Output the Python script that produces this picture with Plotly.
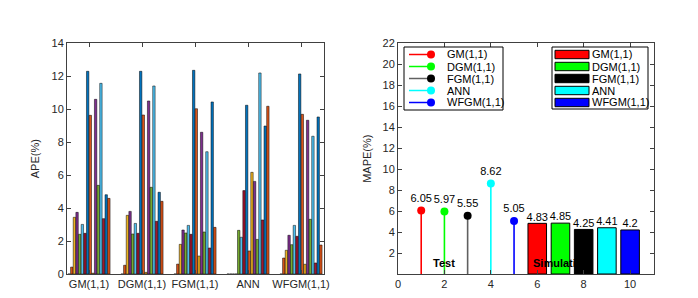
import plotly.graph_objects as go

# ---------------- data ----------------
models = ["GM(1,1)", "DGM(1,1)", "FGM(1,1)", "ANN", "WFGM(1,1)"]
model_pos = [1, 2, 3, 4, 5]

# APE (%) per model, one value per period (16 periods)
ape_gm   = [0, 0.42, 3.44, 3.74, 2.41, 3.01, 2.47, 12.30, 9.63, 0.05, 10.60, 5.38, 11.57, 3.36, 4.81, 4.59]
ape_dgm  = [0, 0.53, 3.56, 3.80, 2.43, 3.07, 2.47, 12.30, 9.65, 0.10, 10.50, 5.26, 11.41, 3.20, 4.96, 4.41]
ape_fgm  = [0, 0.60, 1.80, 2.67, 2.49, 2.95, 2.41, 12.36, 10.03, 1.09, 8.60, 2.55, 7.42, 1.58, 10.44, 2.83]
ape_ann  = [0, 0, 0, 0, 2.65, 2.23, 5.06, 10.24, 1.40, 6.17, 5.62, 2.10, 12.20, 3.28, 8.98, 10.18]
ape_wfgm = [0, 0.97, 1.44, 2.35, 1.78, 2.95, 2.29, 12.14, 9.69, 0.59, 9.33, 3.32, 8.36, 0.67, 9.53, 1.76]

test_x = [1, 2, 3, 4, 5]
test_mape = [6.05, 5.97, 5.55, 8.62, 5.05]
sim_x = [6, 7, 8, 9, 10]
sim_mape = [4.83, 4.85, 4.25, 4.41, 4.2]

left_yticks = [0, 2, 4, 6, 8, 10, 12, 14]
right_yticks = [2, 4, 6, 8, 10, 12, 14, 16, 18, 20, 22]
right_xticks = [0, 2, 4, 6, 8, 10]

# ---------------- styles ----------------
FONT = "Liberation Sans, Arial, sans-serif"
matlab_colors = ["#0072BD", "#D95319", "#EDB120", "#7E2F8E", "#77AC30", "#4DBEEE", "#A2142F"]
stem_line_colors = ["#FF0000", "#00FF00", "#606060", "#00FFFF", "#0000FF"]
stem_marker_colors = ["#FF0000", "#00FF00", "#000000", "#00FFFF", "#0000FF"]
bar_colors = ["#FF0000", "#00FF00", "#000000", "#00FFFF", "#0000FF"]
AXC = "#404040"
W, H = 698, 298


def P(px, py):
    return px / W, (H - py) / H


fig = go.Figure()

# ---------------- left panel: grouped APE bars ----------------
all_ape = [ape_gm, ape_dgm, ape_fgm, ape_ann, ape_wfgm]
n_periods = len(ape_gm)
for j in range(n_periods):
    fig.add_trace(go.Bar(
        x=model_pos, y=[m[j] for m in all_ape],
        marker=dict(color=matlab_colors[j % 7], line=dict(color="black", width=0.5)),
        showlegend=False, xaxis="x", yaxis="y", hoverinfo="y",
    ))

# ---------------- right panel: stems (test) ----------------
for i in range(len(test_x)):
    fig.add_trace(go.Scatter(
        x=[test_x[i], test_x[i]], y=[0, test_mape[i]], mode="lines",
        line=dict(color=stem_line_colors[i], width=1.6),
        showlegend=False, xaxis="x2", yaxis="y2", hoverinfo="skip",
    ))
fig.add_trace(go.Scatter(
    x=test_x, y=test_mape, mode="markers+text",
    marker=dict(color=stem_marker_colors, size=8),
    text=[f"{v:g}" for v in test_mape], textposition="top center",
    textfont=dict(family=FONT, size=11, color="black"),
    showlegend=False, xaxis="x2", yaxis="y2", cliponaxis=False,
))

# ---------------- right panel: bars (simulation) ----------------
fig.add_trace(go.Bar(
    x=sim_x, y=sim_mape, width=0.8,
    marker=dict(color=bar_colors, line=dict(color="black", width=1)),
    showlegend=False, xaxis="x2", yaxis="y2",
))
fig.add_trace(go.Scatter(
    x=sim_x, y=sim_mape, mode="text",
    text=[f"{v:g}" for v in sim_mape], textposition="top center",
    textfont=dict(family=FONT, size=11, color="black"),
    showlegend=False, xaxis="x2", yaxis="y2", cliponaxis=False,
))

# ---------------- axes ----------------
ax_common = dict(showline=True, linecolor=AXC, linewidth=1, mirror="ticks",
                 ticks="inside", ticklen=4, tickcolor=AXC, showgrid=False,
                 zeroline=False, automargin=False,
                 tickfont=dict(family=FONT, size=11, color="#262626"))

y0, y1 = (H - 274) / H, (H - 43.3) / H

fig.update_layout(
    template="none",
    width=W, height=H,
    margin=dict(l=0, r=0, t=0, b=0, pad=0, autoexpand=False),
    paper_bgcolor="white", plot_bgcolor="white",
    barmode="group", bargap=0.2, bargroupgap=0.1,
    showlegend=False,
    font=dict(family=FONT, size=11, color="#262626"),
    xaxis=dict(domain=[67 / W, 324 / W], range=[0.585, 5.434],
               tickvals=model_pos, ticktext=models, anchor="y", **ax_common),
    yaxis=dict(domain=[y0, y1], range=[0, 14], tickvals=left_yticks, anchor="x",
               title=dict(text="APE(%)", standoff=9, font=dict(family=FONT, size=11)),
               **ax_common),
    xaxis2=dict(domain=[398 / W, 654 / W], range=[0, 11.03],
                tickvals=right_xticks, anchor="y2", **ax_common),
    yaxis2=dict(domain=[y0, y1], range=[0, 22], tickvals=right_yticks, anchor="x2",
                title=dict(text="MAPE(%)", standoff=8, font=dict(family=FONT, size=11)),
                **ax_common),
)

# in-plot labels
fig.add_annotation(x=2, y=1.05, xref="x2", yref="y2", text="<b>Test</b>",
                   showarrow=False, font=dict(family=FONT, size=11, color="black"))
fig.add_annotation(x=5.72, y=1.05, xref="x2", yref="y2", text="<b>Simulation</b>",
                   xanchor="left", showarrow=False, font=dict(family=FONT, size=11, color="black"))

# ---------------- legends (drawn to match the compact MATLAB boxes) ----------------
shapes = []
annos = []
# stem legend
bx0, by0 = P(404, 47)
bx1, by1 = P(503, 110)
shapes.append(dict(type="rect", xref="paper", yref="paper", x0=bx0, y0=by1, x1=bx1, y1=by0,
                   line=dict(color="black", width=1), fillcolor="white"))
rows = [54.5, 66.5, 78.5, 90.5, 102.5]
for i, name in enumerate(models):
    ry = rows[i]
    lx0, ly = P(409, ry)
    lx1, _ = P(431, ry)
    shapes.append(dict(type="line", xref="paper", yref="paper", x0=lx0, y0=ly, x1=lx1, y1=ly,
                       line=dict(color=stem_line_colors[i], width=1.5)))
    cx0, cy0 = P(427, ry + 4)
    cx1, cy1 = P(435, ry - 4)
    shapes.append(dict(type="circle", xref="paper", yref="paper", x0=cx0, y0=cy0, x1=cx1, y1=cy1,
                       line=dict(color=stem_marker_colors[i], width=0), fillcolor=stem_marker_colors[i]))
    tx, ty = P(445, ry)
    annos.append(dict(x=tx, y=ty, xref="paper", yref="paper", text=name, xanchor="left",
                      yanchor="middle", showarrow=False, font=dict(family=FONT, size=11, color="black")))
# bar legend
bx0, by0 = P(552, 47)
bx1, by1 = P(648, 109)
shapes.append(dict(type="rect", xref="paper", yref="paper", x0=bx0, y0=by1, x1=bx1, y1=by0,
                   line=dict(color="black", width=1), fillcolor="white"))
for i, name in enumerate(models):
    ry = rows[i]
    px0, py0 = P(555, ry - 4.2)
    px1, py1 = P(589, ry + 4.2)
    shapes.append(dict(type="rect", xref="paper", yref="paper", x0=px0, y0=py1, x1=px1, y1=py0,
                       line=dict(color="black", width=1), fillcolor=bar_colors[i]))
    tx, ty = P(590, ry)
    annos.append(dict(x=tx, y=ty, xref="paper", yref="paper", text=name, xanchor="left",
                      yanchor="middle", showarrow=False, font=dict(family=FONT, size=11, color="black")))

fig.update_layout(shapes=shapes)
for a in annos:
    fig.add_annotation(**a)

fig.write_html("out.html",
               config={"displayModeBar": False},
               post_script="document.body.style.margin='0';document.body.style.padding='0';")
